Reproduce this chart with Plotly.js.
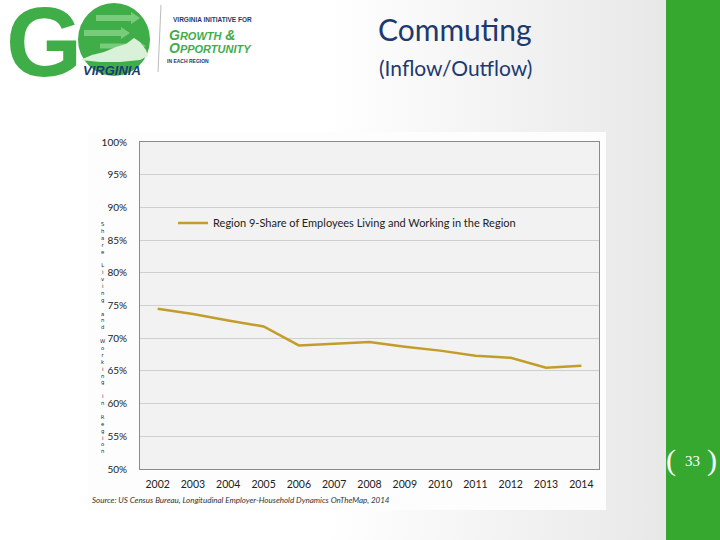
<!DOCTYPE html>
<html>
<head>
<meta charset="utf-8">
<script src="https://cdn.plot.ly/plotly-3.0.1.min.js"></script>
<style>
  html, body { margin:0; padding:0; width:720px; height:540px; overflow:hidden; }
  body { background: linear-gradient(to right, #ffffff 0%, #ffffff 45%, #e8e8e8 92%); position:relative; }
  #box { position:absolute; left:88px; top:132px; width:518px; height:378px; background:#fdfdfd; }
  #green { position:absolute; left:666px; top:0; width:54px; height:540px; background:#36a82f; }
  #chart { position:absolute; left:0; top:0; width:720px; height:540px; }
</style>
</head>
<body>
<div id="box"></div>
<div id="green"></div>
<div id="chart"></div>
<script>
// ---- data ----
const years = [2002, 2003, 2004, 2005, 2006, 2007, 2008, 2009, 2010, 2011, 2012, 2013, 2014];
const shareLivingWorking = [74.5, 73.7, 72.7, 71.8, 68.9, 69.1, 69.4, 68.7, 68.1, 67.3, 67.0, 65.5, 65.8];
const seriesName = 'Region 9-Share of Employees Living and Working in the Region';
const yTickVals = [50, 55, 60, 65, 70, 75, 80, 85, 90, 95, 100];
const yAxisLabel = 'Share Living and Working in Region';
const sourceNote = 'Source: US Census Bureau, Longitudinal Employer-Household Dynamics OnTheMap, 2014';
const pageNumber = '33';

const navy = '#1d3a6e';
const logoGreen = '#3fae49';
const lightGreen = '#8fd68f';

// helpers: pixel -> paper coordinates for decorations (plot area 140..599 x, 142..469 y)
const px = v => (v - 140) / 459;
const py = v => (469 - v) / 327;

const trace = {
  x: years, y: shareLivingWorking, type: 'scatter', mode: 'lines', name: seriesName,
  line: { color: '#c29d2a', width: 2.5 }
};

const stacked = yAxisLabel.split('').join('<br>');

function arrow(x0, x1, yc, h) {
  const xs = [x0, x1 - 9, x1 - 9, x1, x1 - 9, x1 - 9, x0];
  const ys = [yc - h/2, yc - h/2, yc - h, yc, yc + h, yc + h/2, yc + h/2];
  let d = '';
  xs.forEach((x, i) => { d += (i ? ' L ' : 'M ') + px(x).toFixed(4) + ' ' + py(ys[i]).toFixed(4); });
  return { type: 'path', xref: 'paper', yref: 'paper', path: d + ' Z', fillcolor: lightGreen, opacity: 0.75, line: { width: 0 } };
}
function poly(pts, color) {
  let d = '';
  pts.forEach((p, i) => { d += (i ? ' L ' : 'M ') + px(p[0]).toFixed(4) + ' ' + py(p[1]).toFixed(4); });
  return { type: 'path', xref: 'paper', yref: 'paper', path: d + ' Z', fillcolor: color, line: { width: 0 } };
}

const layout = {
  width: 720, height: 540,
  margin: { l: 140, r: 121, t: 142, b: 71 },
  paper_bgcolor: 'rgba(0,0,0,0)',
  plot_bgcolor: '#f2f2f2',
  showlegend: true,
  legend: { x: 0.072, y: 0.752, xanchor: 'left', yanchor: 'middle', bgcolor: 'rgba(0,0,0,0)',
            font: { family: 'Lato, "Open Sans", sans-serif', size: 11, color: '#222' } },
  xaxis: { range: [2001.5, 2014.5], tickvals: years, ticktext: years.map(String),
           showgrid: false, zeroline: false, showline: true, linecolor: '#8a8a8a', mirror: true,
           ticks: '', ticklabelstandoff: 5,
           tickfont: { family: 'Lato, "Open Sans", sans-serif', size: 10.5, color: '#222' } },
  yaxis: { range: [50, 100], tickvals: yTickVals, ticktext: yTickVals.map(v => v + '%'),
           showgrid: true, gridcolor: '#cfcfcf', zeroline: false, showline: true, linecolor: '#8a8a8a', mirror: true,
           ticks: '', ticklabelstandoff: 10,
           tickfont: { family: 'Lato, "Open Sans", sans-serif', size: 10, color: '#222' } },
  shapes: [
    { type: 'line', xref: 'paper', yref: 'paper', x0: px(161), x1: px(158), y0: py(5), y1: py(72),
      line: { color: '#bbbbbb', width: 1 } },
    { type: 'circle', xref: 'paper', yref: 'paper', x0: px(78), x1: px(150), y0: py(3), y1: py(76),
      fillcolor: logoGreen, line: { width: 0 } },
    arrow(96, 140, 18, 6),
    arrow(84, 130, 33, 6),
    arrow(100, 146, 46, 5),
    poly([[80, 60], [92, 55], [104, 52], [116, 47], [126, 44], [134, 38], [140, 42], [146, 50], [148, 56], [140, 60], [120, 62], [100, 62]], '#d9f0d9')
  ],
  annotations: [
    { text: 'Commuting', xref: 'paper', yref: 'paper', x: px(455), y: py(29), showarrow: false,
      xanchor: 'center', yanchor: 'middle', font: { family: 'Lato, "Open Sans", sans-serif', size: 30, color: navy } },
    { text: '(Inflow/Outflow)', xref: 'paper', yref: 'paper', x: px(455), y: py(68), showarrow: false,
      xanchor: 'center', yanchor: 'middle', font: { family: 'Lato, "Open Sans", sans-serif', size: 21, color: navy } },
    // logo
    { text: '<b>G</b>', xref: 'paper', yref: 'paper', x: px(4), y: py(42), showarrow: false,
      xanchor: 'left', yanchor: 'middle', font: { family: '"Liberation Sans", Arial, sans-serif', size: 98, color: logoGreen } },
    { text: '<b><i>VIRGINIA</i></b>', xref: 'paper', yref: 'paper', x: px(112), y: py(71), showarrow: false,
      xanchor: 'center', yanchor: 'middle', font: { family: '"Liberation Sans", Arial, sans-serif', size: 13, color: navy } },
    { text: '<b>VIRGINIA INITIATIVE FOR</b>', xref: 'paper', yref: 'paper', x: px(171), y: py(20), showarrow: false,
      xanchor: 'left', yanchor: 'middle', font: { family: '"Liberation Sans", Arial, sans-serif', size: 6.5, color: navy } },
    { text: '<b><i>G<span style="font-size:11px">ROWTH</span> &amp;</i></b>', xref: 'paper', yref: 'paper', x: px(167), y: py(35), showarrow: false,
      xanchor: 'left', yanchor: 'middle', font: { family: '"Liberation Sans", Arial, sans-serif', size: 14, color: logoGreen } },
    { text: '<b><i>O<span style="font-size:11px">PPORTUNITY</span></i></b>', xref: 'paper', yref: 'paper', x: px(167), y: py(48), showarrow: false,
      xanchor: 'left', yanchor: 'middle', font: { family: '"Liberation Sans", Arial, sans-serif', size: 14, color: logoGreen } },
    { text: '<b>IN EACH REGION</b>', xref: 'paper', yref: 'paper', x: px(165), y: py(61), showarrow: false,
      xanchor: 'left', yanchor: 'middle', font: { family: '"Liberation Sans", Arial, sans-serif', size: 5, color: navy } },
    // stacked y-axis label
    { text: stacked, xref: 'paper', yref: 'paper', x: px(103), y: py(337), showarrow: false,
      xanchor: 'center', yanchor: 'middle', align: 'center',
      font: { family: '"DejaVu Sans", sans-serif', size: 5.3, color: '#222' } },
    // source
    { text: '<i>' + sourceNote + '</i>', xref: 'paper', yref: 'paper', x: px(90), y: py(500), showarrow: false,
      xanchor: 'left', yanchor: 'middle', font: { family: 'Lato, "Open Sans", sans-serif', size: 8, color: '#333' } },
    // page number
    { text: '(', xref: 'paper', yref: 'paper', x: px(671), y: py(460), showarrow: false, xanchor: 'center', yanchor: 'middle',
      font: { family: '"Liberation Serif", serif', size: 30, color: '#ffffff' } },
    { text: pageNumber, xref: 'paper', yref: 'paper', x: px(692), y: py(461), showarrow: false, xanchor: 'center', yanchor: 'middle',
      font: { family: '"Liberation Serif", serif', size: 15, color: '#ffffff' } },
    { text: ')', xref: 'paper', yref: 'paper', x: px(712), y: py(460), showarrow: false, xanchor: 'center', yanchor: 'middle',
      font: { family: '"Liberation Serif", serif', size: 30, color: '#ffffff' } }
  ]
};

Plotly.newPlot('chart', [trace], layout, { displayModeBar: false, staticPlot: true });
</script>
</body>
</html>
